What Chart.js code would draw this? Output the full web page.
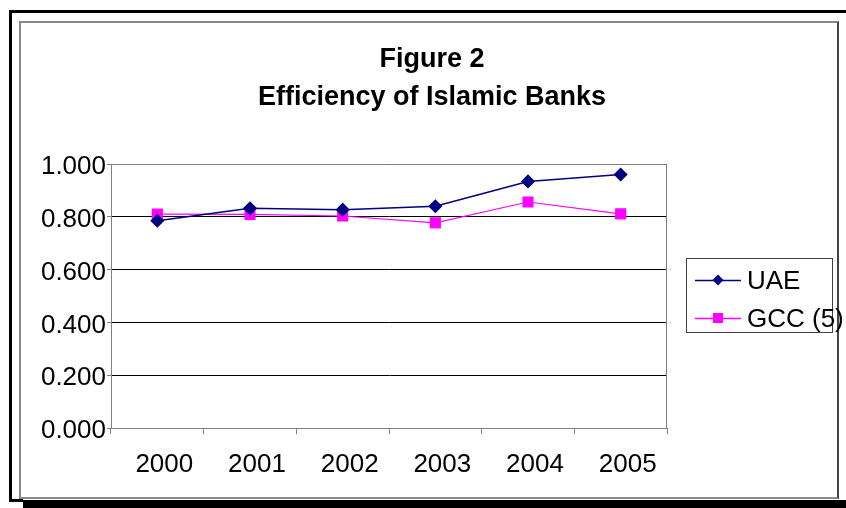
<!DOCTYPE html>
<html>
<head>
<meta charset="utf-8">
<script src="https://cdn.jsdelivr.net/npm/chart.js@4.4.1/dist/chart.umd.min.js"></script>
<style>
  html, body { margin: 0; padding: 0; background: #fff; }
  #wrap { position: relative; width: 846px; height: 508px; overflow: hidden; background: #fff; }
  .f { position: absolute; }
  #c { position: absolute; left: 0; top: 0; }
</style>
</head>
<body>
<div id="wrap">
  <div class="f" style="left:9px;top:10px;width:837px;height:3px;background:#000"></div>
  <div class="f" style="left:9px;top:10px;width:3px;height:492px;background:#000"></div>
  <div class="f" style="left:9px;top:499px;width:14px;height:3px;background:#000"></div>
  <div class="f" style="left:23px;top:500px;width:823px;height:8px;background:#000"></div>
  <div class="f" style="left:19px;top:21px;width:816px;height:474px;border:2px solid #888;border-right-color:#444;"></div>
  <canvas id="c" width="846" height="508"></canvas>
</div>
<script>
const titleLines = ['Figure 2', 'Efficiency of Islamic Banks'];
const years = ['2000', '2001', '2002', '2003', '2004', '2005'];
const uaeValues = [0.785, 0.832, 0.827, 0.840, 0.934, 0.960];
const gccValues = [0.810, 0.809, 0.803, 0.777, 0.856, 0.811];
const seriesLabels = ['UAE', 'GCC (5)'];
const yTicks = [0, 0.2, 0.4, 0.6, 0.8, 1.0];

const FONT = "'Liberation Sans', Arial, sans-serif";

const frameTitlePlugin = {
  id: 'frameTitle',
  beforeDatasetsDraw(chart) {
    const {ctx, chartArea: a} = chart;
    ctx.save();
    ctx.strokeStyle = '#808080';
    ctx.lineWidth = 1;
    ctx.beginPath();
    ctx.moveTo(a.left, a.top + 0.5);
    ctx.lineTo(a.right - 0.5, a.top + 0.5);
    ctx.lineTo(a.right - 0.5, a.bottom);
    ctx.stroke();
    ctx.restore();
  },
  afterDraw(chart) {
    const ctx = chart.ctx;
    ctx.save();
    ctx.fillStyle = '#000';
    ctx.font = 'bold 27px ' + FONT;
    ctx.textAlign = 'center';
    ctx.textBaseline = 'middle';
    titleLines.forEach((t, i) => ctx.fillText(t, 432, 60 + i * 38));

    // legend
    ctx.strokeStyle = '#404040';
    ctx.lineWidth = 1;
    ctx.strokeRect(686.5, 258.5, 146, 74);
    const rows = [280, 318];
    chart.data.datasets.forEach((ds, i) => {
      const y = rows[i];
      ctx.strokeStyle = ds.borderColor;
      ctx.lineWidth = 1.5;
      ctx.beginPath();
      ctx.moveTo(695, y + 0.5);
      ctx.lineTo(741, y + 0.5);
      ctx.stroke();
      ctx.fillStyle = ds.pointBackgroundColor;
      if (ds.pointStyle === 'rectRot') {
        ctx.beginPath();
        ctx.moveTo(718, y - 5.5);
        ctx.lineTo(723.5, y);
        ctx.lineTo(718, y + 5.5);
        ctx.lineTo(712.5, y);
        ctx.closePath();
        ctx.fill();
      } else {
        ctx.fillRect(713, y - 5, 10, 10);
      }
      ctx.fillStyle = '#000';
      ctx.font = '26px ' + FONT;
      ctx.textAlign = 'left';
      ctx.textBaseline = 'middle';
      ctx.fillText(ds.label, 747, y + 2);
    });
    ctx.restore();
  }
};

new Chart(document.getElementById('c'), {
  type: 'line',
  data: {
    labels: years,
    datasets: [
      {
        label: seriesLabels[0],
        data: uaeValues,
        borderColor: '#000080',
        backgroundColor: '#000080',
        pointBackgroundColor: '#000080',
        pointBorderColor: '#000080',
        pointStyle: 'rectRot',
        pointRadius: 6,
        borderWidth: 1.5,
        tension: 0
      },
      {
        label: seriesLabels[1],
        data: gccValues,
        borderColor: '#FF00FF',
        backgroundColor: '#FF00FF',
        pointBackgroundColor: '#FF00FF',
        pointBorderColor: '#FF00FF',
        pointStyle: 'rect',
        pointRadius: 7,
        borderWidth: 1.2,
        tension: 0
      }
    ]
  },
  options: {
    responsive: false,
    animation: false,
    devicePixelRatio: 1,
    layout: { padding: { left: 20, right: 179, top: 164, bottom: 20 } },
    plugins: {
      legend: { display: false },
      title: { display: false },
      tooltip: { enabled: false }
    },
    scales: {
      x: {
        type: 'category',
        offset: true,
        afterFit(s) { s.height = 60; },
        grid: {
          display: true,
          drawOnChartArea: false,
          drawTicks: true,
          tickLength: 6,
          tickColor: '#808080',
          offset: true
        },
        border: { display: true, color: '#808080', width: 1 },
        ticks: {
          color: '#000',
          font: { family: FONT, size: 26 },
          padding: 15,
          labelOffset: 7,
          maxRotation: 0,
          autoSkip: false
        }
      },
      y: {
        min: 0,
        max: 1,
        afterFit(s) { s.width = 91; },
        afterBuildTicks(s) { s.ticks = yTicks.map(v => ({ value: v })); },
        grid: {
          color: '#000',
          lineWidth: 1,
          drawTicks: true,
          tickLength: 4,
          tickColor: '#808080'
        },
        border: { display: true, color: '#808080', width: 1 },
        ticks: {
          color: '#000',
          font: { family: FONT, size: 26 },
          padding: 1,
          labelOffset: 3,
          callback: v => Number(v).toFixed(3)
        }
      }
    }
  },
  plugins: [frameTitlePlugin]
});
</script>
</body>
</html>
